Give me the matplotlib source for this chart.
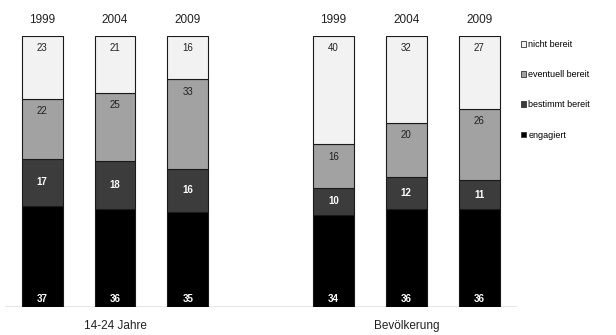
import matplotlib
matplotlib.use("Agg")
import matplotlib.pyplot as plt
import numpy as np
from matplotlib.patches import Patch

plt.rcParams['font.family'] = ['Liberation Sans', 'DejaVu Sans']

years = ["1999", "2004", "2009"]
groups = ["14-24 Jahre", "Bevölkerung"]
series = ["engagiert", "bestimmt bereit", "eventuell bereit", "nicht bereit"]
engagiert = [37, 36, 35, 34, 36, 36]
bestimmt = [17, 18, 16, 10, 12, 11]
eventuell = [22, 25, 33, 16, 20, 26]
nicht = [23, 21, 16, 40, 32, 27]

positions = [0, 1, 2, 4, 5, 6]
colors = ["#000000", "#3c3c3c", "#a2a2a2", "#f2f2f2"]
text_colors = ["white", "white", "#222222", "#222222"]

fig = plt.figure(figsize=(6.16, 3.35), dpi=100)
ax = fig.add_axes([5/616, 28/335, 512/616, (307-36)/335])

data = np.array([engagiert, bestimmt, eventuell, nicht], dtype=float)
totals = data.sum(axis=0)
scaled = data / totals * 100

bottom = np.zeros(len(positions))
width = 0.56
for i, name in enumerate(series):
    ax.bar(positions, scaled[i], width, bottom=bottom, color=colors[i],
           edgecolor="#1a1a1a", linewidth=0.8, label=name, zorder=2)
    for j, x in enumerate(positions):
        seg_b = bottom[j]
        seg_t = bottom[j] + scaled[i][j]
        if i == 0:
            y = 3.0
        elif i == 1:
            y = (seg_b + seg_t) / 2
        else:
            y = seg_t - 4.5
        ax.text(x, y, str(int(data[i][j])), ha="center", va="center", fontsize=7,
                color=text_colors[i], fontweight="bold" if i < 2 else "normal", zorder=3)
    bottom += scaled[i]

ax.set_xlim(-0.51, 6.52)
ax.set_ylim(0, 100)
ax.axhline(0, color="#888888", lw=1.0, zorder=1)
for s in ax.spines.values():
    s.set_visible(False)
ax.set_xticks([])
ax.set_yticks([])
ax.patch.set_alpha(0)

for j, x in enumerate(positions):
    ax.text(x, 106, years[j % 3], ha="center", va="center", fontsize=8.5, color="#222222")

ax.text(1, -7, groups[0], ha="center", va="center", fontsize=8.5, color="#222222")
ax.text(5, -7, groups[1], ha="center", va="center", fontsize=8.5, color="#222222")

handles = [Patch(facecolor=colors[i], edgecolor="#333333", linewidth=0.6, label=series[i])
           for i in range(3, -1, -1)]
fig.legend(handles=handles, loc="upper left", bbox_to_anchor=(521/616, 1 - 40/335),
           frameon=False, fontsize=6.5, handlelength=0.6, handleheight=0.6,
           handletextpad=0.2, labelspacing=2.35, borderaxespad=0, borderpad=0)

fig.savefig("out.png", dpi=100)
